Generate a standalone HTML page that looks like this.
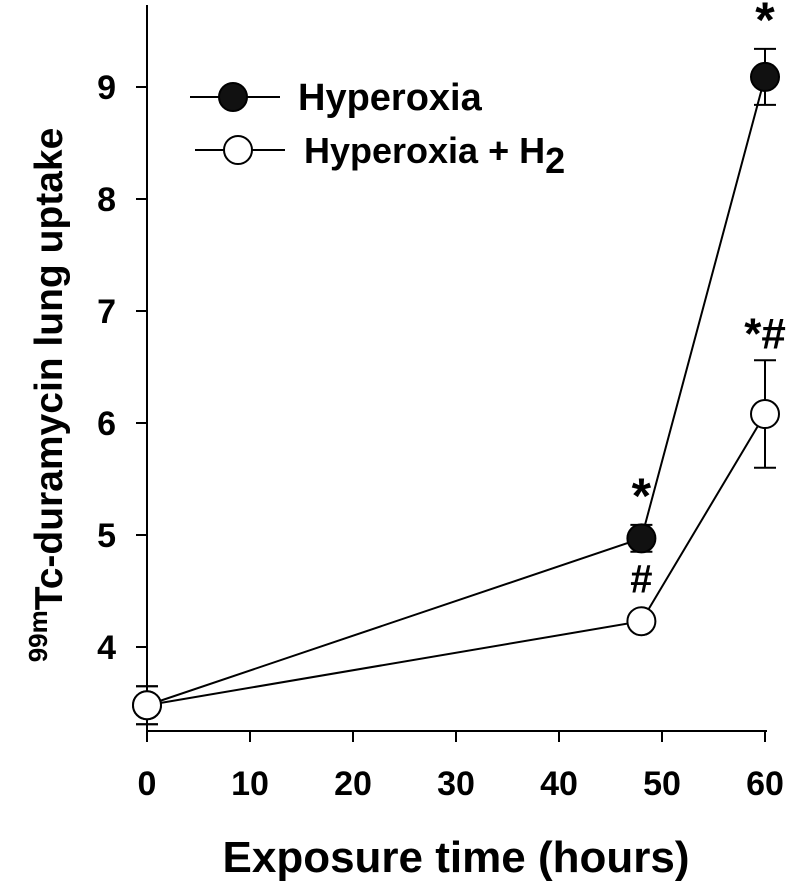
<!DOCTYPE html>
<html><head><meta charset="utf-8"><style>
html,body{margin:0;padding:0;background:#fff;}
svg{display:block;font-family:"Liberation Sans",Arial,sans-serif;font-weight:bold;}
</style></head><body>
<svg id="chart" width="800" height="893" viewBox="0 0 800 893" xmlns="http://www.w3.org/2000/svg">
<g id="axes"></g>
<g id="series"></g>
<g>
  <line x1="190" y1="97" x2="280" y2="97" stroke="#000" stroke-width="2"/>
  <circle cx="233" cy="97" r="14" fill="#111" stroke="#000" stroke-width="2"/>
  <text x="298" y="110" font-size="38">Hyperoxia</text>
  <line x1="195" y1="150" x2="285" y2="150" stroke="#000" stroke-width="2"/>
  <circle cx="238" cy="150" r="14" fill="#fff" stroke="#000" stroke-width="2"/>
  <text x="304" y="163" font-size="36">Hyperoxia +  H<tspan dy="10">2</tspan></text>
</g>
<text transform="translate(62,395) rotate(-90)" text-anchor="middle" font-size="39"><tspan font-size="26" dy="-15">99m</tspan><tspan dy="15">Tc-duramycin lung uptake</tspan></text>
<text x="456" y="872" text-anchor="middle" font-size="44">Exposure time (hours)</text>
</svg>
<script>
const xTicks=[0,10,20,30,40,50,60];
const yTicks=[4,5,6,7,8,9];
const times=[0,48,60];
const hyperoxia=[3.48,4.97,9.09];
const hyperoxiaErr=[0.17,0.12,0.25];
const h2=[3.48,4.23,6.08];
const h2Err=[0.17,0.08,0.48];
const hyperoxiaMarks=["","*","*"];
const h2Marks=["","#","*#"];
const NS="http://www.w3.org/2000/svg";
const X=v=>147+v*(765-147)/60;
const Y=v=>647-(v-4)*112;
function mk(p,tag,a){const e=document.createElementNS(NS,tag);for(const k in a)e.setAttribute(k,a[k]);p.appendChild(e);return e;}
const ax=document.getElementById('axes');
let e=mk(ax,'line',{x1:147,y1:5,x2:147,y2:742,stroke:'#000','stroke-width':2});


e=mk(ax,'line',{x1:147,y1:731,x2:767,y2:731,stroke:'#000','stroke-width':2});


xTicks.forEach(t=>{
 let l=mk(ax,'line',{x1:X(t),y1:731,x2:X(t),y2:742,stroke:'#000','stroke-width':2});
 
 
 let s=mk(ax,'text',{x:X(t),y:795,'text-anchor':'middle','font-size':34});
 s.textContent=t;
 
 
});
yTicks.forEach(t=>{
 let l=mk(ax,'line',{x1:136,y1:Y(t),x2:147,y2:Y(t),stroke:'#000','stroke-width':2});
 
 
 let s=mk(ax,'text',{x:116,y:Y(t)+12,'text-anchor':'end','font-size':34});
 s.textContent=t;
 
 
});
const sg=document.getElementById('series');
function series(vals,errs,marks,fill,name){
 let d=vals.map((v,i)=>(i?'L':'M')+X(times[i])+','+Y(v)).join(' ');
 let p=mk(sg,'path',{d:d,fill:'none',stroke:'#000','stroke-width':2});
 
 
 vals.forEach((v,i)=>{
  const x=X(times[i]),hi=Y(v+errs[i]),lo=Y(v-errs[i]);
  let eb=mk(sg,'path',{d:`M${x},${hi}L${x},${lo}M${x-11},${hi}L${x+11},${hi}M${x-11},${lo}L${x+11},${lo}`,stroke:'#000','stroke-width':2,fill:'none'});
  
  
  let c=mk(sg,'circle',{cx:x,cy:Y(v),r:14,fill:fill,stroke:'#000','stroke-width':2});
  
  
  if(marks[i]){
   let t=mk(sg,'text',{x:x,y:hi-(marks[i]=='#'?20:12),'text-anchor':'middle','font-size':marks[i]=='*'?50:(marks[i]=='#'?40:44)});
   t.textContent=marks[i];
   
   
  }
 });
}
series(hyperoxia,hyperoxiaErr,hyperoxiaMarks,'#111','hyperoxia');
series(h2,h2Err,h2Marks,'#fff','hyperoxia-h2');
</script>
</body></html>
